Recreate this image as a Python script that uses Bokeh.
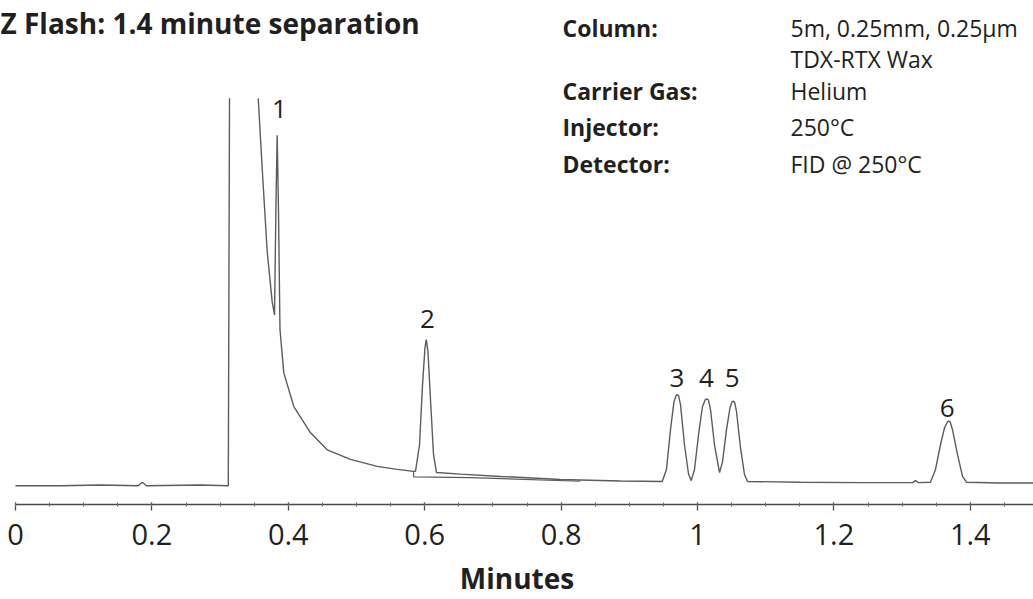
import numpy as np
from bokeh.plotting import figure
from bokeh.models import Range1d, FixedTicker
from bokeh.core.properties import value
from bokeh.embed import file_html
from bokeh.resources import INLINE

NaN = np.nan

# ---------------- data ----------------
# detector trace: retention time (min) / signal (% of full scale); NaN = off-scale gap
trace_t = [0.000, 0.066, 0.125, 0.180, 0.186, 0.192, 0.271, 0.312, 0.3138, NaN,
           0.3559, 0.3617, 0.3691, 0.3764, 0.3798, 0.3820, 0.3837, 0.3856, 0.3878,
           0.3934, 0.4081, 0.4326, 0.4570, 0.4912, 0.5304, 0.5572, 0.5836,
           0.5865, 0.5924, 0.5968, 0.6004, 0.6023, 0.6048, 0.6085, 0.6129, 0.6173,
           0.6525, 0.7111, 0.7991, 0.8871, 0.9482,
           0.9545, 0.9604, 0.9655, 0.9684, 0.9702, 0.9722, 0.9751, 0.9809, 0.9868, 0.9908,
           0.9956, 1.0015, 1.0073, 1.0115, 1.0137, 1.0160, 1.0191, 1.0249, 1.0323,
           1.0367, 1.0425, 1.0477, 1.0505, 1.0524, 1.0545, 1.0572, 1.0630, 1.0689, 1.0733,
           1.1510, 1.2390, 1.3152, 1.3196, 1.3240, 1.3416,
           1.3490, 1.3563, 1.3622, 1.3665, 1.3685, 1.3705, 1.3739, 1.3812, 1.3886, 1.3944,
           1.4443, 1.4927]
trace_s = [-0.3, -0.3, -0.1, -0.3, 0.6, -0.3, -0.1, -0.3, 100.0, NaN,
           100.0, 81.9, 60.2, 47.3, 43.9, 73.6, 90.4, 71.1, 40.1,
           28.9, 20.2, 13.4, 9.0, 6.5, 4.7, 4.0, 3.4,
           3.4, 10.3, 25.8, 35.4, 37.5, 34.4, 22.0, 7.8, 3.1,
           2.7, 2.1, 1.3, 0.9, 0.8,
           3.9, 14.2, 21.4, 23.0, 23.3, 23.0, 20.7, 10.3, 2.8, 1.0,
           3.9, 12.9, 20.2, 22.0, 22.2, 21.9, 19.4, 10.3, 3.1,
           5.9, 14.2, 19.9, 21.4, 21.6, 21.3, 18.9, 9.6, 2.6, 0.8,
           0.6, 0.5, 0.5, 1.0, 0.5, 0.6,
           3.9, 10.3, 14.7, 16.2, 16.4, 16.2, 14.2, 7.8, 2.1, 0.6,
           0.4, 0.4]

# integrator baseline drawn under peak 2
drop_t = [0.5836, 0.5836, 0.6672, 0.8284]
drop_s = [3.4, 2.0, 1.8, 0.85]

peak_numbers = ["1", "2", "3", "4", "5", "6"]
peak_label_t = [0.387, 0.604, 0.970, 1.013, 1.051, 1.366]
peak_label_s = [94.8, 40.6, 25.3, 25.3, 25.3, 17.6]

tick_values = [0, 0.2, 0.4, 0.6, 0.8, 1.0, 1.2, 1.4]
tick_labels = ["0", "0.2", "0.4", "0.6", "0.8", "1", "1.2", "1.4"]
minor_tick_values = [round(i * 0.05, 2) for i in range(0, 30)]

title_text = "Z Flash: 1.4 minute separation"
info_keys = ["Column:", "Carrier Gas:", "Injector:", "Detector:"]
info_values = ["5m, 0.25mm, 0.25µm", "TDX-RTX Wax", "Helium", "250°C", "FID @ 250°C"]
x_label = "Minutes"

# ---------------- layout (picture pixels -> data) ----------------
CANVAS_W, CANVAS_H = 1033, 599
AXIS_PX = 505                      # frame bottom / axis line
X0_PX, PX_PER_MIN = 15.0, 682.0
BASE_PX, PX_PER_UNIT = 485.0, 3.87


def tx(px):
    return (px - X0_PX) / PX_PER_MIN


def sy(py):
    return (BASE_PX - py) / PX_PER_UNIT


FONT = "Open Sans"
INK = "#231f20"
TRACE = "#5c5c5c"

p = figure(width=CANVAS_W, height=CANVAS_H, output_backend="svg", toolbar_location=None,
           tools="", x_range=Range1d(tx(0), tx(CANVAS_W)),
           y_range=Range1d(sy(AXIS_PX), sy(0)), y_axis_location=None,
           min_border=0, min_border_bottom=CANVAS_H - AXIS_PX)
p.grid.visible = False
p.outline_line_color = None
p.background_fill_color = "white"
p.border_fill_color = "white"

p.line(np.array(trace_t), np.array(trace_s), line_color=TRACE, line_width=1.4)
p.line(drop_t, drop_s, line_color=TRACE, line_width=1.2)

# peak numbers
p.text(x=peak_label_t, y=peak_label_s, text=peak_numbers, text_font=value(FONT),
       text_font_size="26px", text_color=INK, text_align="center",
       text_baseline="alphabetic", y_offset=-9)

# title
p.text(x=[tx(0)], y=[sy(32.3)], text=[title_text], text_font=value(FONT),
       text_font_style="bold", text_font_size="28px", text_color=INK,
       text_align="left", text_baseline="alphabetic", y_offset=-10)

# conditions block
key_base = [37, 100, 136, 173]
val_base = [37, 68, 100, 136, 173]
p.text(x=[tx(562)] * len(info_keys), y=[sy(b) for b in key_base], text=info_keys,
       text_font=value(FONT), text_font_style="bold", text_font_size="23px", text_color=INK,
       text_align="left", text_baseline="alphabetic", y_offset=-9)
p.text(x=[tx(790)] * len(info_values), y=[sy(b) for b in val_base], text=info_values,
       text_font=value(FONT), text_font_size="23px", text_color=INK,
       text_align="left", text_baseline="alphabetic", y_offset=-9)

ax = p.xaxis[0]
ax.ticker = FixedTicker(ticks=tick_values, minor_ticks=minor_tick_values)
ax.major_label_overrides = dict(zip(tick_values, tick_labels))
ax.bounds = (0, tx(CANVAS_W))
ax.axis_line_color = "#4a4a4a"
ax.axis_line_width = 1.6
ax.major_tick_line_color = "#4a4a4a"
ax.major_tick_line_width = 1.3
ax.major_tick_out = 6
ax.major_tick_in = 2
ax.minor_tick_line_color = "#6a6a6a"
ax.minor_tick_out = 2
ax.minor_tick_in = 2
ax.major_label_text_font = FONT
ax.major_label_text_font_size = "29px"
ax.major_label_text_color = INK
ax.major_label_standoff = 13
ax.axis_label = x_label
ax.axis_label_text_font = FONT
ax.axis_label_text_font_style = "bold"
ax.axis_label_text_font_size = "28px"
ax.axis_label_text_color = INK
ax.axis_label_standoff = 11

open("out.html", "w").write(file_html(p, INLINE))
